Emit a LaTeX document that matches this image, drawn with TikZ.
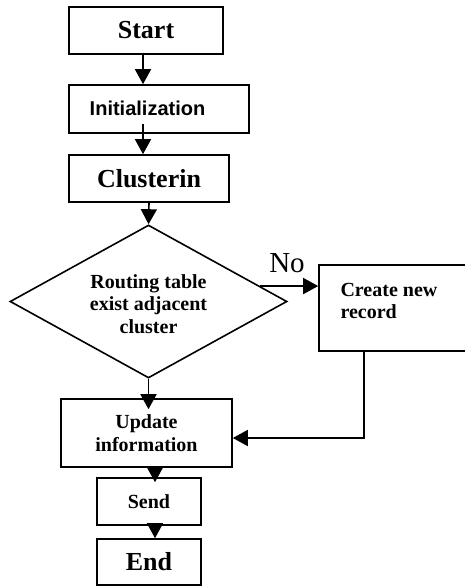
\documentclass[tikz,border=0pt]{standalone}
\usepackage{fontspec}
\setmainfont{Liberation Serif}
\newfontfamily\arialfont{Liberation Sans}
\usetikzlibrary{arrows.meta,shapes.geometric,calc}

\tikzset{
  box/.style={draw, line width=1.6pt, inner sep=0pt, rectangle},
  bigtxt/.style={font=\bfseries\fontsize{26}{28}\selectfont},
  midtxt/.style={font=\bfseries\fontsize{20}{22.5}\selectfont, align=center},
  flow/.style={line width=1.6pt, -{Triangle[length=15pt,width=16pt]}},
}

\begin{document}
\begin{tikzpicture}[x=1pt, y=-1pt]
  \useasboundingbox (0,0) rectangle (464,586);

  % process boxes
  \node[box, bigtxt, minimum width=154pt, minimum height=47pt] (start) at (146,30.5) {Start};
  \node[box, minimum width=180pt, minimum height=48pt] (init) at (159,109) {};
  \node[font=\arialfont\bfseries\fontsize{20}{22}\selectfont] (inittext) at (147.5,108) {Initialization};
  \node[box, bigtxt, minimum width=160pt, minimum height=47pt] (clus) at (149,178.5) {Clusterin};

  % decision
  \node[draw, line width=1.6pt, diamond, inner sep=0pt, minimum width=277pt, minimum height=153pt, aspect=1.81] (dec) at (148.5,301.5) {};
  \node[midtxt] (dectext) at (148.5,304) {Routing table\\exist adjacent\\cluster};

  % new record branch (runs off the right edge)
  \node[box, minimum width=170pt, minimum height=86pt] (create) at (404,308) {};
  \node[midtxt, align=left, anchor=west] (createtext) at (337,301) {Create new\\record};

  % lower boxes
  \node[box, midtxt, minimum width=171pt, minimum height=68pt] (upd) at (146.5,433) {Update\\information};
  \node[box, midtxt, minimum width=104pt, minimum height=47pt] (send) at (149,501.5) {Send};
  \node[box, bigtxt, minimum width=104pt, minimum height=46pt] (end) at (149,562) {End};

  % connectors
  \draw[flow] ([xshift=-3pt]start.south) -- ([xshift=-16pt]init.north);
  \draw[flow] ([xshift=-16pt,yshift=10pt]init.south) -- ([xshift=-6pt]clus.north);
  \draw[flow] (clus.south) -- (dec.north);
  \draw[flow] (dec.south) -- ([yshift=-11pt]dec.south |- upd.north);
  \coordinate (noout) at ($(dec.north)!0.8!(dec.east)$);
  \draw[flow] (noout) -- (noout -| create.west);
  \node[font=\fontsize{29}{31}\selectfont, anchor=base] (nolabel) at (287,272) {No};
  \draw[flow] (create.south -| 364,0) |- ([yshift=-5pt]upd.east);
  \draw[flow] ([xshift=8.5pt]upd.south) -- ([xshift=6pt,yshift=-5pt]send.north);
  \draw[flow] ([xshift=6pt]send.south) -- ([xshift=6pt]end.north);
\end{tikzpicture}
\end{document}
